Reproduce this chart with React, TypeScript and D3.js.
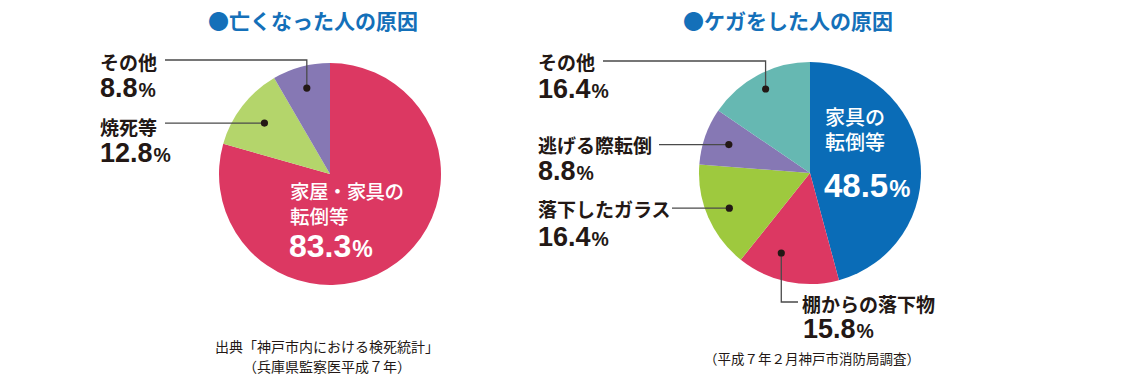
import React from "react";
import * as d3 from "d3";

// ---------- data ----------
const deathCategories = ["家屋・家具の転倒等", "焼死等", "その他"];
const deathValues = [83.3, 12.8, 8.8];
const deathColors = ["#dc3862", "#b4d56b", "#8678b4"];

const injuryCategories = ["家具の転倒等", "棚からの落下物", "落下したガラス", "逃げる際転倒", "その他"];
const injuryValues = [48.5, 15.8, 16.4, 8.8, 16.4];
const injuryColors = ["#0a6cb7", "#dc3862", "#9ec93e", "#8678b4", "#66b8b2"];

const titles = ["●亡くなった人の原因", "●ケガをした人の原因"];
const deathSource = ["出典「神戸市内における検死統計」", "（兵庫県監察医平成７年）"];
const injurySource = ["（平成７年２月神戸市消防局調査）"];

// ---------- styles ----------
const JP = "'Noto Sans CJK JP', 'Noto Sans', sans-serif";
const NUM = "'Liberation Sans', Arial, sans-serif";
const DARK = "#231815";
const LINE = "#4a4a4a";
const BLUE = "#1470b9";

const R = 111;

type Slice = d3.PieArcDatum<number>;

function Pie({ values, colors, cx, cy }: { values: number[]; colors: string[]; cx: number; cy: number }) {
  const arcs = d3.pie<number>().sort(null).value((d) => d)(values);
  const arc = d3.arc<Slice>().innerRadius(0).outerRadius(R);
  return (
    <g transform={`translate(${cx},${cy})`}>
      {arcs.map((a, i) => (
        <path key={i} d={arc(a) || ""} fill={colors[i]} />
      ))}
    </g>
  );
}

function dotPos(values: number[], idx: number, cx: number, cy: number, rr: number, angOffset = 0) {
  const arcs = d3.pie<number>().sort(null).value((d) => d)(values);
  const a = arcs[idx];
  const mid = (a.startAngle + a.endAngle) / 2 + angOffset;
  return [cx + rr * Math.sin(mid), cy - rr * Math.cos(mid)];
}

function Pct({ x, y, value, size, fill, anchor = "start" }: any) {
  return (
    <text x={x} y={y} fontFamily={NUM} fontWeight={700} fontSize={size} fill={fill} textAnchor={anchor}>
      {value.toFixed(1)}
      <tspan fontSize={size * 0.72} dx={1}>%</tspan>
    </text>
  );
}

function Label({ x, y, text, size = 19, fill = DARK, weight = 700, len }: any) {
  return (
    <text
      x={x}
      y={y}
      fontFamily={JP}
      fontWeight={weight}
      fontSize={size}
      fill={fill}
      dominantBaseline="central"
      {...(len ? { textLength: len, lengthAdjust: "spacing" } : {})}
    >
      {text}
    </text>
  );
}

export default function App() {
  const L = { cx: 330, cy: 174 };
  const Rt = { cx: 810, cy: 173 };

  // dots
  const dOther = dotPos(deathValues, 2, L.cx, L.cy, 89);
  const dFire = dotPos(deathValues, 1, L.cx, L.cy, 83);
  const iOther = dotPos(injuryValues, 4, Rt.cx, Rt.cy, 95);
  const iRun = dotPos(injuryValues, 3, Rt.cx, Rt.cy, 86);
  const iGlass = dotPos(injuryValues, 2, Rt.cx, Rt.cy, 88);
  const iShelf = dotPos(injuryValues, 1, Rt.cx, Rt.cy, 85, 0.14);

  const dot = (p: number[], k: string) => <circle key={k} cx={p[0]} cy={p[1]} r={3.6} fill={DARK} />;

  const [mainA, mainB] = ["家屋・家具の", "転倒等"];

  return (
    <div style={{ position: "fixed", left: 0, top: 0 }}>
      <svg width={1140} height={379} style={{ display: "block", background: "#fff" }}>
        {/* titles */}
        <text x={208} y={20} fontFamily={JP} fontWeight={700} fontSize={21} fill={BLUE} dominantBaseline="central">
          {titles[0]}
        </text>
        <text x={683} y={20} fontFamily={JP} fontWeight={700} fontSize={21} fill={BLUE} dominantBaseline="central">
          {titles[1]}
        </text>

        {/* left pie */}
        <Pie values={deathValues} colors={deathColors} cx={L.cx} cy={L.cy} />
        <polyline points={`165,60 ${dOther[0]},60 ${dOther[0]},${dOther[1]}`} fill="none" stroke={LINE} strokeWidth={1.3} />
        <polyline points={`165,${dFire[1]} ${dFire[0]},${dFire[1]}`} fill="none" stroke={LINE} strokeWidth={1.3} />
        {dot(dOther, "a")}
        {dot(dFire, "b")}
        <Label x={100} y={61} text={deathCategories[2]} />
        <Pct x={100} y={97} value={deathValues[2]} size={27} fill={DARK} />
        <Label x={100} y={126.5} text={deathCategories[1]} />
        <Pct x={100} y={162} value={deathValues[1]} size={27} fill={DARK} />
        <Label x={290} y={190.5} text={mainA} fill="#fff" weight={500} size={19.5} len={114} />
        <Label x={290} y={215.5} text={mainB} fill="#fff" weight={500} size={19.5} />
        <Pct x={289} y={257} value={deathValues[0]} size={32} fill="#fff" />
        {deathSource.map((s, i) => (
          <text key={i} x={327} y={346 + i * 20} fontFamily={JP} fontWeight={400} fontSize={14} fill={DARK} textAnchor="middle" dominantBaseline="central">
            {s}
          </text>
        ))}

        {/* right pie */}
        <Pie values={injuryValues} colors={injuryColors} cx={Rt.cx} cy={Rt.cy} />
        <polyline points={`603,61 ${iOther[0]},61 ${iOther[0]},${iOther[1]}`} fill="none" stroke={LINE} strokeWidth={1.3} />
        <polyline points={`659,${iRun[1]} ${iRun[0]},${iRun[1]}`} fill="none" stroke={LINE} strokeWidth={1.3} />
        <polyline points={`672,${iGlass[1]} ${iGlass[0]},${iGlass[1]}`} fill="none" stroke={LINE} strokeWidth={1.3} />
        <polyline points={`${iShelf[0]},${iShelf[1]} ${iShelf[0]},302 798,302`} fill="none" stroke={LINE} strokeWidth={1.3} />
        {dot(iOther, "c")}
        {dot(iRun, "d")}
        {dot(iGlass, "e")}
        {dot(iShelf, "f")}
        <Label x={538} y={61.5} text={injuryCategories[4]} />
        <Pct x={538} y={98} value={injuryValues[4]} size={27} fill={DARK} />
        <Label x={538} y={144.5} text={injuryCategories[3]} />
        <Pct x={538} y={180} value={injuryValues[3]} size={27} fill={DARK} />
        <Label x={538} y={208} text={injuryCategories[2]} />
        <Pct x={538} y={246} value={injuryValues[2]} size={27} fill={DARK} />
        <Label x={802} y={303.5} text={injuryCategories[1]} />
        <Pct x={803} y={338} value={injuryValues[1]} size={27} fill={DARK} />
        <Label x={825} y={116.5} text="家具の" fill="#fff" weight={500} size={20} />
        <Label x={825} y={141.5} text="転倒等" fill="#fff" weight={500} size={20} />
        <Pct x={824} y={197} value={injuryValues[0]} size={33} fill="#fff" />
        {injurySource.map((s, i) => (
          <text key={i} x={812} y={357.5} fontFamily={JP} fontWeight={400} fontSize={13.5} fill={DARK} textAnchor="middle" dominantBaseline="central">
            {s}
          </text>
        ))}
      </svg>
    </div>
  );
}
